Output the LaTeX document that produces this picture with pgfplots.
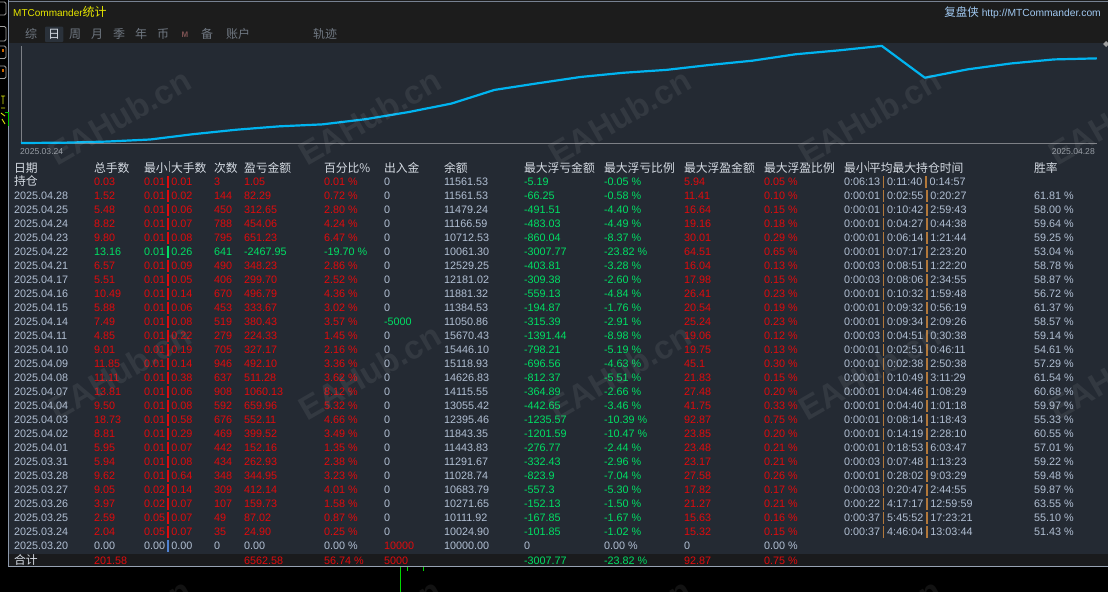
\documentclass[border=0pt]{standalone}
\usepackage{pgfplots}
\pgfplotsset{compat=1.18}
\usepackage{fontspec}
\setmainfont{Liberation Sans}
\newfontfamily\cjk{Noto Sans CJK SC}
\definecolor{bgdark}{RGB}{28,28,28}
\definecolor{panel}{RGB}{36,42,51}
\definecolor{sumbg}{RGB}{26,27,29}
\definecolor{border}{RGB}{140,152,170}
\definecolor{upred}{RGB}{226,10,12}
\definecolor{dngreen}{RGB}{0,224,100}
\definecolor{neutral}{RGB}{178,192,212}
\definecolor{hdr}{RGB}{214,220,228}
\definecolor{sepor}{RGB}{178,120,58}
\definecolor{barblue}{RGB}{80,130,210}
\definecolor{tabgray}{RGB}{112,120,130}
\definecolor{tabhl}{RGB}{42,49,58}
\definecolor{curve}{RGB}{0,180,240}
\definecolor{axisgray}{RGB}{125,128,134}
\definecolor{ttlyellow}{RGB}{232,232,0}
\definecolor{linkblue}{RGB}{160,200,240}
\newcommand\G{\color{dngreen}}
\newcommand\Rd{\color{upred}}
\newcommand\N{\color{neutral}}
\newcommand\MS{\hspace{2.4pt}\raisebox{-2.6pt}{\rule{1.6pt}{11.5pt}}\hspace{2.4pt}}
\newcommand\MSB{\hspace{2.4pt}\raisebox{-2.6pt}{\textcolor{barblue}{\rule{1.6pt}{11.5pt}}}\hspace{2.4pt}}
\newcommand\TS{\hspace{2.8pt}\raisebox{-2.6pt}{\textcolor{sepor}{\rule{1.6pt}{11.5pt}}}\hspace{2.8pt}}
\newcommand\T[3]{#1\TS #2\TS #3}
\tikzset{
  cell/.style={anchor=base west, inner sep=0pt, outer sep=0pt, font=\fontsize{10.8}{13}\selectfont},
  hd/.style={anchor=base west, inner sep=0pt, outer sep=0pt, font=\cjk\fontsize{11.8}{13}\selectfont, text=hdr},
  tab/.style={anchor=base west, inner sep=0pt, outer sep=0pt, font=\cjk\fontsize{12}{13}\selectfont, text=tabgray},
  wm/.style={rotate=30, inner sep=0pt, font=\bfseries\fontsize{33}{33}\selectfont, text=white, opacity=0.07}
}
\newcommand\col[3]{\foreach \v [count=\i from 0] in {#3} {\node[cell,text=#2] at (#1,{-185.3-14*\i}) {\v};}}
\newcommand\colp[3]{\foreach \v [count=\i from 0] in {#3} {\node[cell,text=#2] at (#1,{-185.3-14*\i}) {\v\ \%};}}
\begin{document}
\begin{tikzpicture}[x=1pt,y=1pt]
\useasboundingbox (0,0) rectangle (1108,-592);
\clip (0,0) rectangle (1108,-592);
\fill[black] (0,0) rectangle (1108,-592);
% panel backgrounds
\fill[bgdark] (8,0) rectangle (1108,-43);
\fill[panel] (8,-43) rectangle (1108,-554);
\fill[sumbg] (8,-554) rectangle (1108,-566);
\draw[border!85!black, line width=1pt] (8,-1.3) -- (1108,-1.3);
\draw[border, line width=1pt] (8.5,0) -- (8.5,-566.5);
\draw[border!90!white, line width=1pt] (8,-566.5) -- (1108,-566.5);
% left strip
\foreach \a/\b in {2/15,26.5/41,46/58.5,66/78.5}
  \draw[gray!75, line width=0.8pt, rounded corners=1.5pt] (-3,-\a) rectangle (6,-\b);
\fill[orange!80!black] (2,-49) rectangle (4,-52);
\fill[orange!80!black] (2,-69) rectangle (4,-72);
\draw[yellow!85!green, line width=0.9pt] (1,-96) -- (5,-96) (3,-96) -- (3,-104) (1,-108) -- (5,-108) (1,-113) -- (5,-116) (2,-119) -- (5,-124);
\draw[green!80!black, line width=0.8pt] (5,-112) -- (8,-112) -- (8,-126);
% bottom green ticks
\draw[green!85!black, line width=1pt] (400,-567) -- (400,-592) (407,-567) -- (407,-571) (423,-567) -- (423,-571);
% header
\node[anchor=base west, inner sep=0pt, font=\fontsize{10}{12}\selectfont, text=ttlyellow] at (13,-16) {MTCommander{\cjk\fontsize{12}{12}\selectfont 统计}};
\node[anchor=base east, inner sep=0pt, font=\fontsize{10.3}{12}\selectfont, text=linkblue] at (1101,-16) {{\cjk\fontsize{11.5}{12}\selectfont 复盘侠} http://MTCommander.com};
\fill[tabhl, rounded corners=1pt] (45,-26.7) rectangle (63.3,-42);
\node[tab] at (25,-38.6) {综};
\node[tab, text=hdr] at (48,-38.6) {日};
\node[tab] at (69,-38.6) {周};
\node[tab] at (91,-38.6) {月};
\node[tab] at (113,-38.6) {季};
\node[tab] at (135,-38.6) {年};
\node[tab] at (157,-38.6) {币};
\node[anchor=base west, inner sep=0pt, font=\bfseries\fontsize{8}{9}\selectfont, text={rgb,255:red,125;green,82;blue,82}] at (181.5,-37.5) {M};
\node[tab] at (201,-38.6) {备};
\node[tab] at (226,-38.6) {账户};
\node[tab] at (313,-38.6) {轨迹};
% chart
\begin{axis}[at={(21pt,-143pt)}, anchor=south west, scale only axis,
  width=1076pt, height=97pt, xmin=0, xmax=25, ymin=0, ymax=7520,
  axis x line=bottom, axis y line=left,
  every outer x axis line/.append style={-}, every outer y axis line/.append style={-},
  x axis line style={-}, y axis line style={-},
  axis line style={draw=axisgray, line width=0.9pt},
  xtick=\empty, ytick=\empty, clip=false]
\addplot[curve, line width=2.2pt, line join=round, mark=none] coordinates {
(0,0) (1,24.90) (2,111.92) (3,271.65) (4,683.79) (5,1028.74) (6,1291.67)
(7,1443.83) (8,1843.35) (9,2395.46) (10,3055.42) (11,4115.55) (12,4626.83)
(13,5118.93) (14,5446.10) (15,5670.43) (16,6050.86) (17,6384.53) (18,6881.32)
(19,7181.02) (20,7529.25) (21,5061.30) (22,5712.53) (23,6166.59) (24,6479.24)
(25,6561.53)};
\end{axis}
\node[anchor=base west, inner sep=0pt, font=\fontsize{8.6}{10}\selectfont, text={rgb,255:red,150;green,156;blue,164}] at (20,-154) {2025.03.24};
\node[anchor=base east, inner sep=0pt, font=\fontsize{8.6}{10}\selectfont, text={rgb,255:red,150;green,156;blue,164}] at (1095,-154) {2025.04.28};
\fill[gray!75] (1103,-44) -- (1106,-41) -- (1109,-44) -- (1106,-47) -- cycle;
% table header
\node[hd] at (14,-172) {日期};
\node[hd] at (94,-172) {总手数};
\node[hd] at (144,-172) {最小\hspace{1pt}\textcolor{hdr!70!black}{\rule{1.4pt}{11pt}}\hspace{1pt}大手数};
\node[hd] at (214,-172) {次数};
\node[hd] at (244,-172) {盈亏金额};
\node[hd] at (324,-172) {百分比\%};
\node[hd] at (384,-172) {出入金};
\node[hd] at (444,-172) {余额};
\node[hd] at (524,-172) {最大浮亏金额};
\node[hd] at (604,-172) {最大浮亏比例};
\node[hd] at (684,-172) {最大浮盈金额};
\node[hd] at (764,-172) {最大浮盈比例};
\node[hd] at (844,-172) {最小\textcolor{hdr!70!black}{\rule{1.4pt}{11pt}}平均最大持仓时间};
\node[hd] at (1034,-172) {胜率};
% table body
\col{14}{neutral}{{\cjk\fontsize{11.8}{13}\selectfont\color{hdr}持仓},2025.04.28,2025.04.25,2025.04.24,2025.04.23,2025.04.22,2025.04.21,2025.04.17,2025.04.16,2025.04.15,2025.04.14,2025.04.11,2025.04.10,2025.04.09,2025.04.08,2025.04.07,2025.04.04,2025.04.03,2025.04.02,2025.04.01,2025.03.31,2025.03.28,2025.03.27,2025.03.26,2025.03.25,2025.03.24,2025.03.20}
\col{94}{upred}{0.03,1.52,5.48,8.82,9.80,{\G 13.16},6.57,5.51,10.49,5.88,7.49,4.85,9.01,11.85,11.11,13.81,9.50,18.73,8.81,5.95,5.94,9.62,9.05,3.97,2.59,2.04,{\N 0.00}}
\col{144}{upred}{0.01\MS 0.01,0.01\MS 0.02,0.01\MS 0.06,0.01\MS 0.07,0.01\MS 0.08,{\G 0.01\MS 0.26},0.01\MS 0.09,0.01\MS 0.05,0.01\MS 0.14,0.01\MS 0.06,0.01\MS 0.08,0.01\MS 0.22,0.01\MS 0.19,0.01\MS 0.14,0.01\MS 0.38,0.01\MS 0.06,0.01\MS 0.08,0.01\MS 0.58,0.01\MS 0.29,0.01\MS 0.07,0.01\MS 0.08,0.01\MS 0.64,0.02\MS 0.14,0.02\MS 0.07,0.05\MS 0.07,0.05\MS 0.07,{\N 0.00\MSB 0.00}}
\col{214}{upred}{3,144,450,788,795,{\G 641},490,406,670,453,519,279,705,946,637,908,592,676,469,442,434,348,309,107,49,35,{\N 0}}
\col{244}{upred}{1.05,82.29,312.65,454.06,651.23,{\G -2467.95},348.23,299.70,496.79,333.67,380.43,224.33,327.17,492.10,511.28,1060.13,659.96,552.11,399.52,152.16,262.93,344.95,412.14,159.73,87.02,24.90,{\N 0.00}}
\colp{324}{upred}{0.01,0.72,2.80,4.24,6.47,{\G -19.70},2.86,2.52,4.36,3.02,3.57,1.45,2.16,3.36,3.62,8.12,5.32,4.66,3.49,1.35,2.38,3.23,4.01,1.58,0.87,0.25,{\N 0.00}}
\col{384}{neutral}{0,0,0,0,0,0,0,0,0,0,{\G -5000},0,0,0,0,0,0,0,0,0,0,0,0,0,0,0,{\Rd 10000}}
\col{444}{neutral}{11561.53,11561.53,11479.24,11166.59,10712.53,10061.30,12529.25,12181.02,11881.32,11384.53,11050.86,15670.43,15446.10,15118.93,14626.83,14115.55,13055.42,12395.46,11843.35,11443.83,11291.67,11028.74,10683.79,10271.65,10111.92,10024.90,10000.00}
\col{524}{dngreen}{-5.19,-66.25,-491.51,-483.03,-860.04,-3007.77,-403.81,-309.38,-559.13,-194.87,-315.39,-1391.44,-798.21,-696.56,-812.37,-364.89,-442.65,-1235.57,-1201.59,-276.77,-332.43,-823.9,-557.3,-152.13,-167.85,-101.85,{\N 0}}
\colp{604}{dngreen}{-0.05,-0.58,-4.40,-4.49,-8.37,-23.82,-3.28,-2.60,-4.84,-1.76,-2.91,-8.98,-5.19,-4.63,-5.51,-2.66,-3.46,-10.39,-10.47,-2.44,-2.96,-7.04,-5.30,-1.50,-1.67,-1.02,{\N 0.00}}
\col{684}{upred}{5.94,11.41,16.64,19.16,30.01,64.51,16.04,17.98,26.41,20.54,25.24,19.06,19.75,45.1,21.83,27.48,41.75,92.87,23.85,23.48,23.17,27.58,17.82,21.27,15.63,15.32,{\N 0}}
\colp{764}{upred}{0.05,0.10,0.15,0.18,0.29,0.65,0.13,0.15,0.23,0.19,0.23,0.12,0.13,0.30,0.15,0.20,0.33,0.75,0.20,0.21,0.21,0.26,0.17,0.21,0.16,0.15,{\N 0.00}}
\col{844}{neutral}{\T{0:06:13}{0:11:40}{0:14:57},\T{0:00:01}{0:02:55}{0:20:27},\T{0:00:01}{0:10:42}{2:59:43},\T{0:00:01}{0:04:27}{0:44:38},\T{0:00:01}{0:06:14}{1:21:44},\T{0:00:01}{0:07:17}{2:23:20},\T{0:00:03}{0:08:51}{1:22:20},\T{0:00:03}{0:08:06}{2:34:55},\T{0:00:01}{0:10:32}{1:59:48},\T{0:00:01}{0:09:32}{0:56:19},\T{0:00:01}{0:09:34}{2:09:26},\T{0:00:03}{0:04:51}{0:30:38},\T{0:00:01}{0:02:51}{0:46:11},\T{0:00:01}{0:02:38}{2:50:38},\T{0:00:01}{0:10:49}{3:11:29},\T{0:00:01}{0:04:46}{1:08:29},\T{0:00:01}{0:04:40}{1:01:18},\T{0:00:01}{0:08:14}{1:18:43},\T{0:00:01}{0:14:19}{2:28:10},\T{0:00:01}{0:18:53}{6:03:47},\T{0:00:03}{0:07:48}{1:13:23},\T{0:00:01}{0:28:02}{9:03:29},\T{0:00:03}{0:20:47}{2:44:55},\T{0:00:22}{4:17:17}{12:59:59},\T{0:00:37}{5:45:52}{17:23:21},\T{0:00:37}{4:46:04}{13:03:44},{}}
\col{1034}{neutral}{{},61.81 \%,58.00 \%,59.64 \%,59.25 \%,53.04 \%,58.78 \%,58.87 \%,56.72 \%,61.37 \%,58.57 \%,59.14 \%,54.61 \%,57.29 \%,61.54 \%,60.68 \%,59.97 \%,55.33 \%,60.55 \%,57.01 \%,59.22 \%,59.48 \%,59.87 \%,63.55 \%,55.10 \%,51.43 \%,{}}
% summary row
\node[hd] at (14,-564) {合计};
\node[cell, text=upred] at (94,-564) {201.58};
\node[cell, text=upred] at (244,-564) {6562.58};
\node[cell, text=upred] at (324,-564) {56.74 \%};
\node[cell, text=upred] at (384,-564) {5000};
\node[cell, text=dngreen] at (524,-564) {-3007.77};
\node[cell, text=dngreen] at (604,-564) {-23.82 \%};
\node[cell, text=upred] at (684,-564) {92.87};
\node[cell, text=upred] at (764,-564) {0.75 \%};
% watermarks
\foreach \wy in {117,372,627}
  \foreach \wx in {120,370,620,870,1120}
    \node[wm] at (\wx,-\wy) {EAHub.cn};
\end{tikzpicture}
\end{document}
